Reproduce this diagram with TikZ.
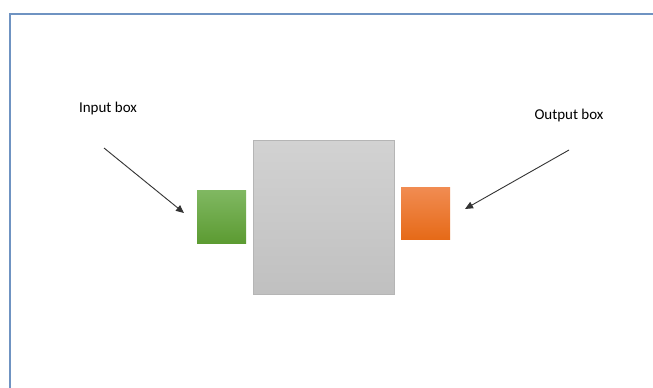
\documentclass[tikz,border=0pt]{standalone}
\usepackage{fontspec}
\setmainfont{Carlito}
\usetikzlibrary{arrows.meta}
\definecolor{framecol}{HTML}{6F93C2}
\definecolor{greentop}{HTML}{80B862}
\definecolor{greenbot}{HTML}{5C9B32}
\definecolor{orangetop}{HTML}{F18C52}
\definecolor{orangebot}{HTML}{E66A18}
\definecolor{graytop}{HTML}{D2D2D2}
\definecolor{graybot}{HTML}{C0C0C0}
\definecolor{grayedge}{HTML}{B5B5B5}
\tikzset{
  px/.style={x=1pt,y=-1pt},
  blockbox/.style={draw=none, inner sep=0pt, outer sep=0pt},
  label/.style={font=\fontsize{15}{17}\selectfont, text=black, inner sep=0pt},
  pointer/.style={draw=black!80, line width=0.9pt, -{Triangle[length=8pt,width=7pt]}},
}
\begin{document}
\begin{tikzpicture}[px]
  \useasboundingbox (0,0) rectangle (653,388);
  \fill[white] (0,0) rectangle (653,388);
  % page frame running off the right and bottom edges
  \draw[framecol, line width=2pt] (9.5,400) -- (9.5,13.5) -- (670,13.5);
  % central block
  \shade[top color=graytop, bottom color=graybot] (253,140) rectangle (394,294);
  \draw[grayedge, line width=0.6pt] (253,140) rectangle (394,294);
  \node[blockbox, minimum width=141pt, minimum height=154pt] (core) at (323.5,217) {};
  % input and output boxes
  \shade[top color=greentop, bottom color=greenbot] (197,190) rectangle (246,243);
  \node[blockbox, minimum width=49pt, minimum height=53pt] (inbox) at (221.5,216.5) {};
  \shade[top color=orangetop, bottom color=orangebot] (401,187) rectangle (450,239);
  \node[blockbox, minimum width=49pt, minimum height=52pt] (outbox) at (425.5,213) {};
  % labels
  \node[label] (inlabel) at (108,108) {Input box};
  \node[label] (outlabel) at (569,115) {Output box};
  % pointers
  \coordinate (instart) at (104,148);
  \coordinate (inend) at (184,213);
  \coordinate (outstart) at (569,150);
  \coordinate (outend) at (465,209);
  \draw[pointer] (instart) -- (inend);
  \draw[pointer] (outstart) -- (outend);
\end{tikzpicture}
\end{document}
